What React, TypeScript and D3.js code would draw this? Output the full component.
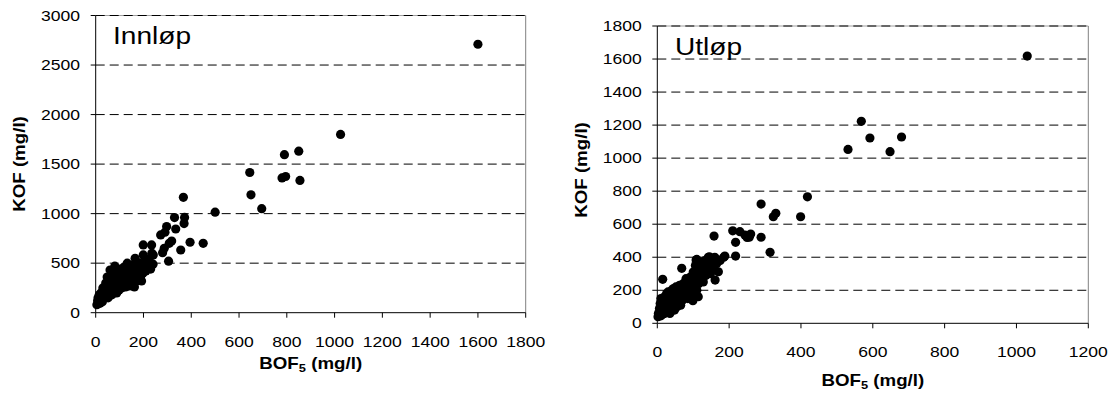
import React from "react";
import * as d3 from "d3";

// ---------- DATA ----------
const innlopTitle = "Innløp";
const utlopTitle = "Utløp";

const innlopXTicks = [0, 200, 400, 600, 800, 1000, 1200, 1400, 1600, 1800];
const innlopYTicks = [0, 500, 1000, 1500, 2000, 2500, 3000];
const utlopXTicks = [0, 200, 400, 600, 800, 1000, 1200];
const utlopYTicks = [0, 200, 400, 600, 800, 1000, 1200, 1400, 1600, 1800];

// [BOF5, KOF]
const innlopPoints: [number, number][] = [
  [1600, 2710], [1025, 1800], [850, 1630], [790, 1595], [795, 1375], [780, 1360], [855, 1335],
  [645, 1415], [650, 1190], [695, 1050], [500, 1015], [367, 1165], [330, 960], [372, 962],
  [370, 900], [335, 845], [297, 870], [290, 812], [272, 785], [318, 724], [308, 700],
  [287, 650], [280, 606], [395, 711], [450, 700], [356, 633], [305, 520], [241, 583],
  [234, 684], [199, 684], [199, 583], [210, 505], [165, 549],
  [5, 80], [8, 120], [10, 150], [12, 100], [15, 180], [18, 95], [20, 130], [22, 200],
  [25, 160], [28, 110], [30, 250], [32, 140], [35, 190], [38, 230], [40, 170], [42, 300],
  [45, 260], [48, 360], [50, 210], [52, 150], [55, 280], [58, 240], [60, 430], [62, 200],
  [65, 330], [68, 180], [70, 270], [72, 390], [75, 300], [78, 220], [80, 470], [82, 350],
  [85, 250], [88, 200], [90, 320], [92, 410], [95, 280], [98, 230], [100, 360], [102, 440],
  [105, 300], [108, 250], [110, 390], [112, 340], [115, 280], [118, 460], [120, 320],
  [122, 380], [125, 260], [128, 420], [130, 350], [132, 500], [135, 300], [138, 380],
  [140, 450], [142, 270], [145, 330], [148, 400], [150, 370], [152, 480], [155, 300],
  [158, 420], [160, 350], [162, 260], [168, 400], [170, 320], [172, 460], [175, 380],
  [178, 430], [180, 340], [182, 500], [185, 420], [188, 360], [190, 470], [192, 320],
  [195, 440], [198, 400], [200, 500], [205, 460], [210, 420], [215, 540], [220, 480],
  [225, 520], [230, 440], [235, 600], [240, 490],
];

const utlopPoints: [number, number][] = [
  [1030, 1618], [568, 1223], [592, 1122], [531, 1053], [648, 1039], [680, 1128],
  [418, 766], [399, 645], [289, 722], [330, 666], [323, 645], [289, 521], [314, 430],
  [210, 560], [230, 555], [244, 534], [250, 520], [256, 521], [260, 540], [218, 490],
  [218, 407], [188, 407], [170, 383], [158, 528], [142, 400], [108, 383], [110, 387],
  [145, 403], [15, 266], [68, 333], [170, 312], [161, 262], [114, 161], [99, 137],
  [2, 40], [3, 60], [5, 50], [6, 90], [8, 120], [10, 45], [10, 150], [12, 70], [14, 100],
  [15, 55], [16, 130], [18, 80], [20, 160], [20, 60], [22, 110], [24, 140], [25, 90],
  [26, 180], [28, 70], [30, 120], [30, 190], [32, 150], [34, 100], [35, 60], [36, 170],
  [38, 130], [40, 200], [40, 90], [42, 110], [44, 160], [45, 210], [46, 140], [48, 80],
  [50, 180], [50, 120], [52, 220], [54, 150], [55, 100], [56, 200], [58, 170], [60, 130],
  [62, 230], [64, 190], [65, 110], [66, 160], [68, 210], [70, 140], [72, 240], [74, 180],
  [75, 200], [78, 160], [80, 270], [82, 220], [84, 190], [85, 150], [88, 240], [90, 200],
  [92, 280], [94, 230], [96, 170], [98, 260], [100, 310], [100, 220], [104, 250],
  [106, 350], [108, 280], [110, 200], [112, 300], [115, 240], [118, 330], [120, 270],
  [122, 360], [125, 300], [128, 250], [130, 330], [132, 380], [135, 290], [138, 350],
  [140, 320], [145, 360], [148, 300], [150, 380], [155, 340], [160, 400], [165, 360],
  [175, 380], [185, 400],
];

// ---------- STYLE ----------
const FONT = "'Liberation Sans', Arial, Helvetica, sans-serif";
const SX = 1.17;

function SText(props: {
  x: number; y: number; size: number; anchor?: string; weight?: string | number;
  rotate?: number; children: React.ReactNode;
}) {
  const { x, y, size, anchor = "start", weight = "normal", rotate = 0, children } = props;
  return (
    <text
      transform={`translate(${x},${y}) rotate(${rotate}) scale(${SX},1)`}
      fontFamily={FONT}
      fontSize={size}
      fontWeight={weight}
      textAnchor={anchor}
      fill="#000"
    >
      {children}
    </text>
  );
}

type PanelProps = {
  left: number; right: number; top: number; bottom: number;
  xMax: number; yMax: number; xTicks: number[]; yTicks: number[];
  points: [number, number][]; title: string; titleX: number; titleY: number;
  yLabelX: number; yLabelY: number; xLabelY: number; xTickLabelY: number; yTickLabelX: number;
};

function Panel(p: PanelProps) {
  const x = d3.scaleLinear().domain([0, p.xMax]).range([p.left, p.right]);
  const y = d3.scaleLinear().domain([0, p.yMax]).range([p.bottom, p.top]);
  const cx = (p.left + p.right) / 2;
  return (
    <g>
      <line x1={p.left} x2={p.right} y1={p.top} y2={p.top} stroke="#a0a0a0" strokeWidth={1} />
      <line x1={p.right} x2={p.right} y1={p.top} y2={p.bottom} stroke="#808080" strokeWidth={1} />
      {p.yTicks.filter((t) => t > 0).map((t) => (
        <line key={"g" + t} x1={p.left} x2={p.right} y1={y(t)} y2={y(t)}
          stroke="#000" strokeWidth={1} strokeDasharray="9,5" />
      ))}
      <line x1={p.left} x2={p.left} y1={p.top} y2={p.bottom} stroke="#000" strokeWidth={1} />
      <line x1={p.left} x2={p.right} y1={p.bottom} y2={p.bottom} stroke="#000" strokeWidth={1} />
      {p.yTicks.map((t) => (
        <g key={"yt" + t}>
          <line x1={p.left - 5} x2={p.left} y1={y(t)} y2={y(t)} stroke="#000" />
          <SText x={p.yTickLabelX} y={y(t) + 5} size={15} anchor="end">{t}</SText>
        </g>
      ))}
      {p.xTicks.map((t) => (
        <g key={"xt" + t}>
          <line x1={x(t)} x2={x(t)} y1={p.bottom} y2={p.bottom + 5} stroke="#000" />
          <SText x={x(t)} y={p.xTickLabelY} size={15} anchor="middle">{t}</SText>
        </g>
      ))}
      {p.points.map((d, i) => (
        <circle key={"p" + i} cx={x(d[0])} cy={y(d[1])} r={4.6} fill="#000" />
      ))}
      <SText x={p.titleX} y={p.titleY} size={24}>{p.title}</SText>
      <SText x={p.yLabelX} y={p.yLabelY} size={16} weight="bold" anchor="middle" rotate={-90}>
        KOF (mg/l)
      </SText>
      <SText x={cx} y={p.xLabelY} size={16} weight="bold" anchor="middle">
        BOF<tspan fontSize={11} dy={3}>5</tspan><tspan dy={-3}> (mg/l)</tspan>
      </SText>
    </g>
  );
}

export default function App() {
  return (
    <svg width={1111} height={400} style={{ position: "absolute", left: 0, top: 0, background: "#fff" }}>
      <rect width={1111} height={400} fill="#fff" />
      <Panel left={95.7} right={525.7} top={15.5} bottom={312.7}
        xMax={1800} yMax={3000} xTicks={innlopXTicks} yTicks={innlopYTicks}
        points={innlopPoints} title={innlopTitle} titleX={113} titleY={43.5}
        yLabelX={25} yLabelY={164} xLabelY={369} xTickLabelY={347} yTickLabelX={80} />
      <Panel left={657.3} right={1088.3} top={26} bottom={323.3}
        xMax={1200} yMax={1800} xTicks={utlopXTicks} yTicks={utlopYTicks}
        points={utlopPoints} title={utlopTitle} titleX={675} titleY={55}
        yLabelX={587} yLabelY={170} xLabelY={386} xTickLabelY={357} yTickLabelX={641.7} />
    </svg>
  );
}
